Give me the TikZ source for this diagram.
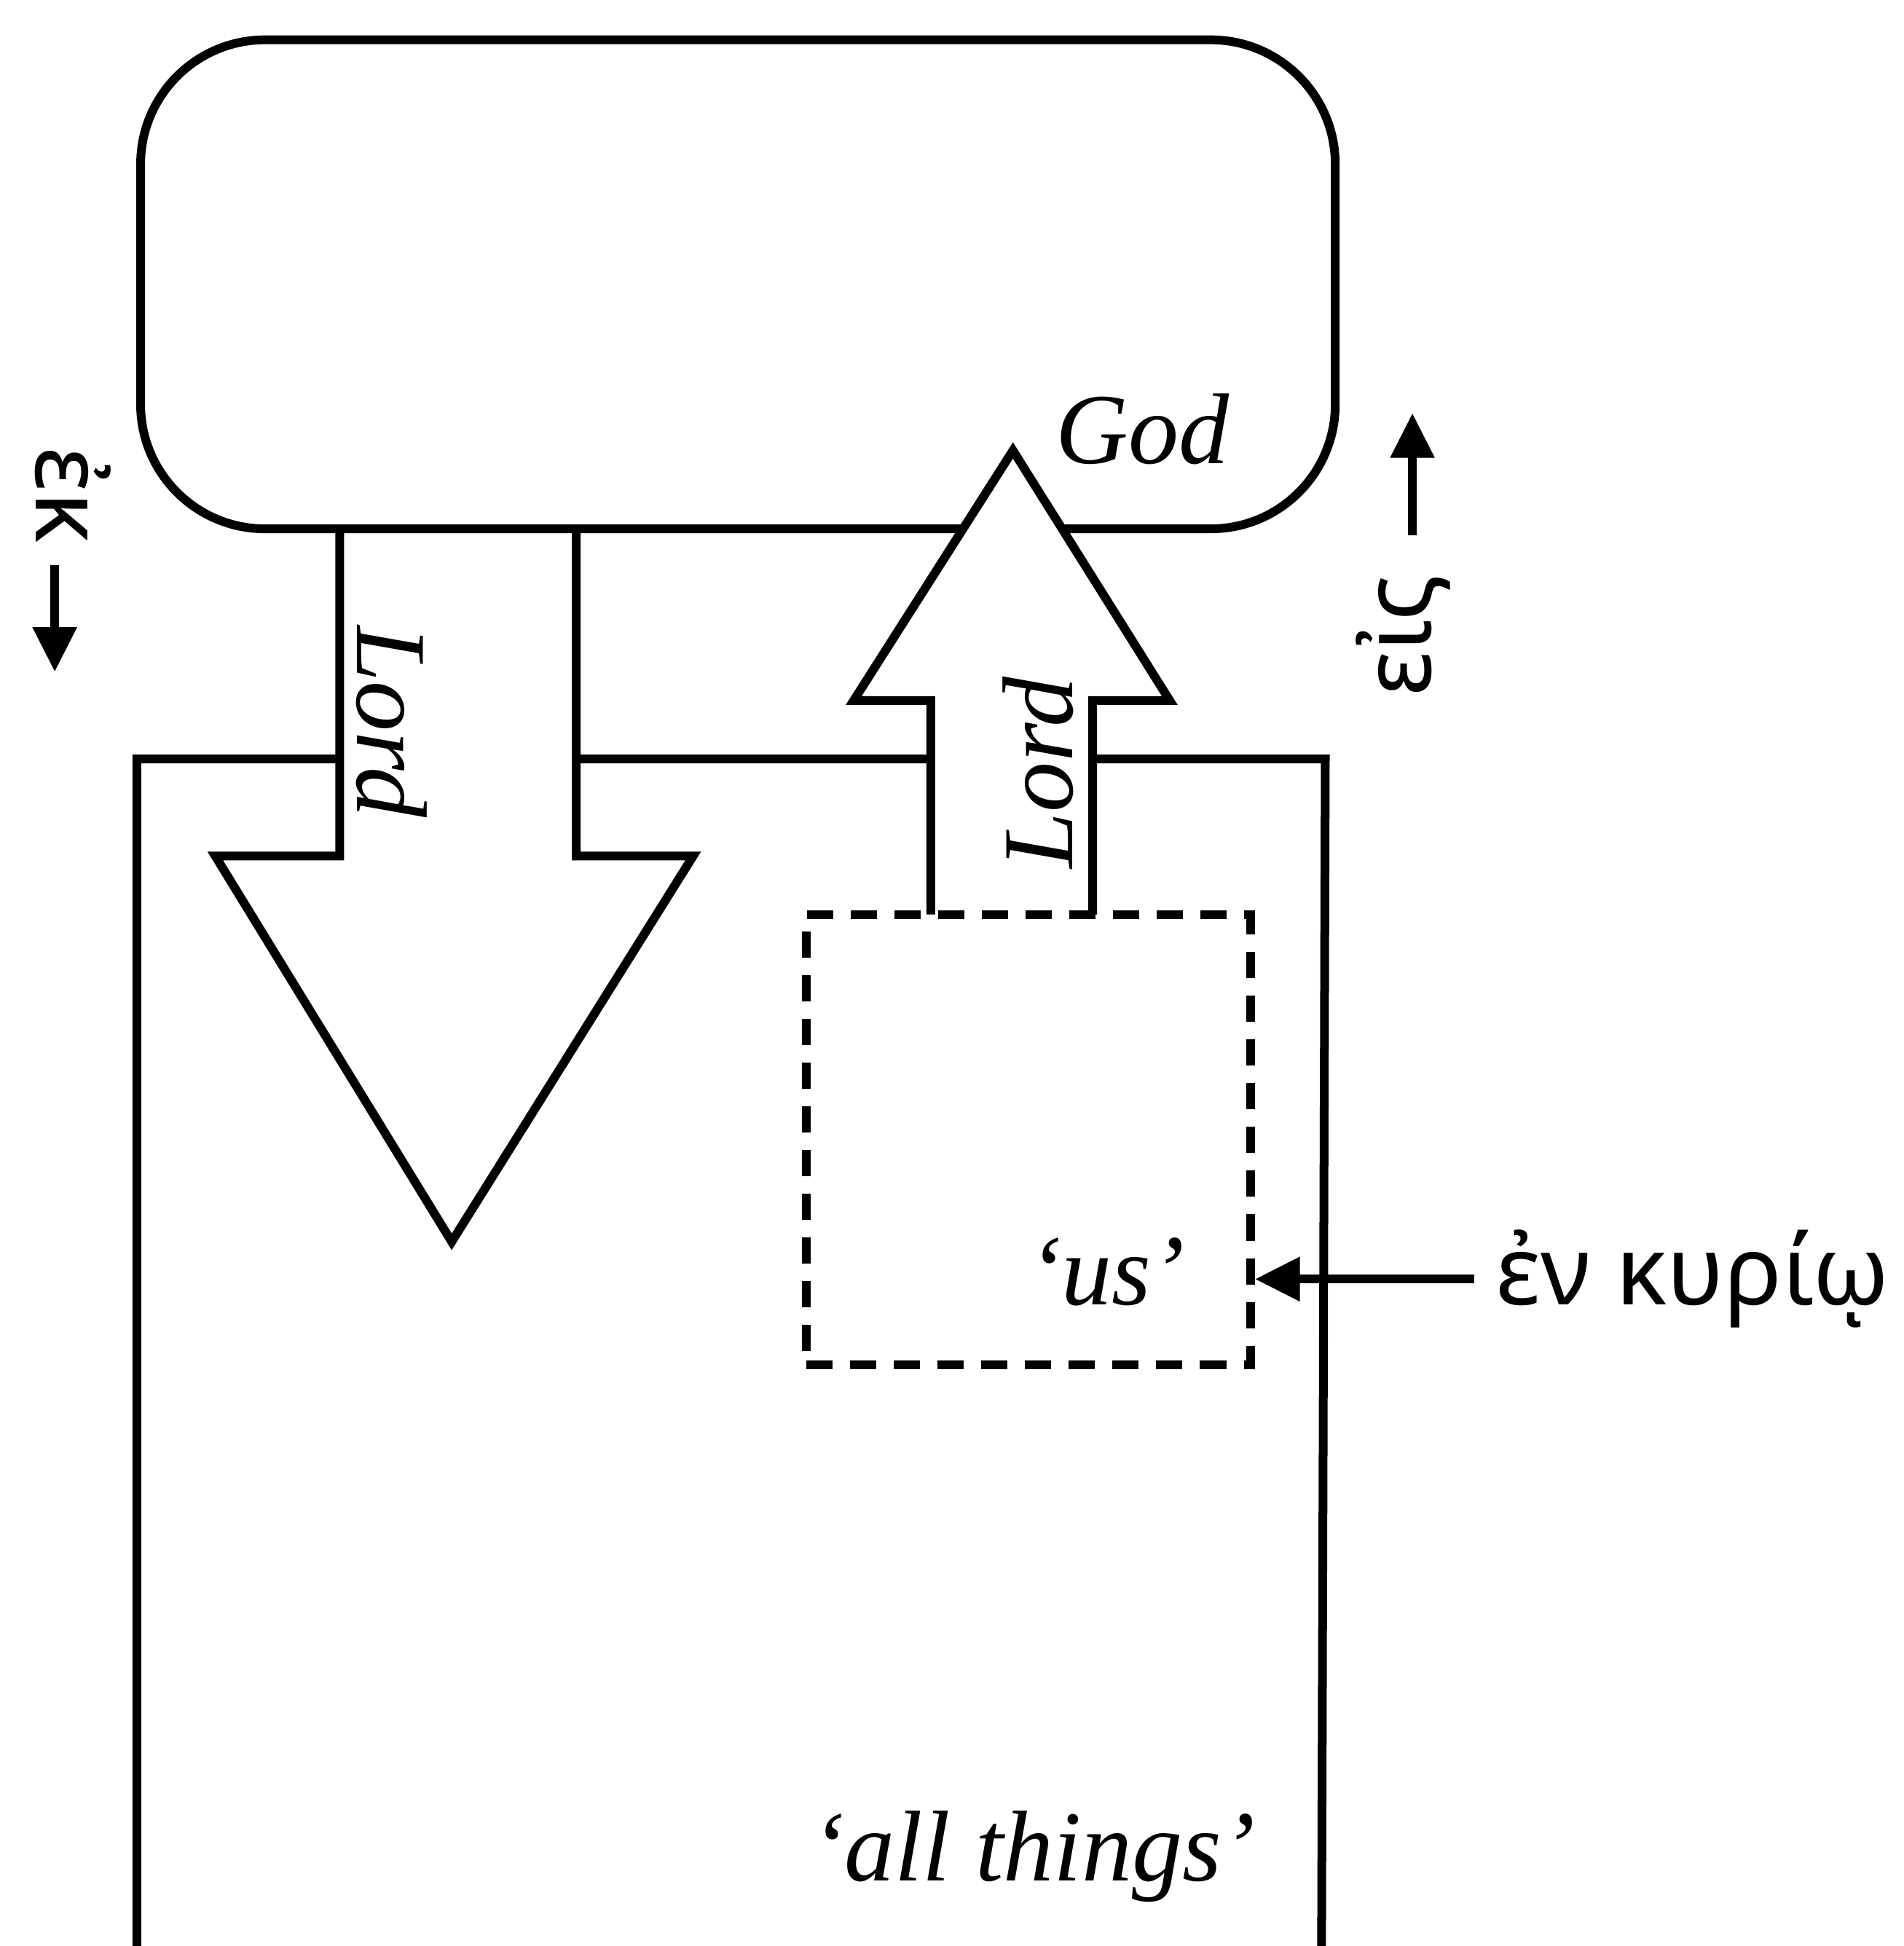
\documentclass[tikz,border=0pt]{standalone}
\usepackage{fontspec}
\setmainfont{Liberation Serif}
\newfontfamily\greekfont{Noto Sans}
\usetikzlibrary{arrows.meta}
\newcommand{\bigit}{\fontsize{23}{27}\selectfont\itshape}
\newcommand{\biggk}{\fontsize{22}{26}\selectfont\greekfont}

\begin{document}
\begin{tikzpicture}[line width=2pt,
        lbl/.style={font=\bigit, inner sep=1pt},
        gk/.style={font=\biggk, inner sep=1pt},
        tip/.style={-{Triangle[length=3.6mm,width=3.4mm]}, line width=2pt},
        usline/.style={dash pattern=on 6pt off 4pt}]

        \useasboundingbox (0,0) rectangle (15.30,-15.64);

        %%BOXES
        % All things (open at the bottom)
        \path[draw] (1.10,-15.64) -- (1.10,-6.10) -- (10.65,-6.10) -- (10.62,-15.64);

        % Lord, going out of God
        \path[draw, fill=white] (2.73,-4.25) -- (2.73,-6.88) -- (1.73,-6.88) -- (3.63,-9.98) -- (5.57,-6.88) -- (4.63,-6.88) -- (4.63,-4.25);

        % God
        \path[draw, rounded corners=1cm] (1.13,-0.32) rectangle (10.73,-4.25);

        % Lord, going back to God
        \path[draw, fill=white] (7.48,-7.35) -- (7.48,-5.63) -- (6.86,-5.63) -- (8.14,-3.62) -- (9.40,-5.63) -- (8.78,-5.63) -- (8.78,-7.35);

        % us
        \node[draw, usline, minimum width=3.57cm, minimum height=3.62cm, inner sep=0pt] (usbox) at (8.265,-9.16) {};

        %%LABELS
        \node[lbl] (god) at (9.18,-3.45) {God};
        \node[lbl, rotate=-90] (lordD) at (3.15,-5.80) {Lord};
        \node[lbl, rotate=90] (lordU) at (8.34,-6.21) {Lord};
        \node[lbl] (us) at (8.89,-10.22) {‘us’};
        \node[lbl] (all) at (8.30,-14.92) {‘all things’};

        %%GREEK
        % ek
        \node[gk, rotate=-90, anchor=base west] (ek) at (0.29,-3.52) {ἐκ};
        \coordinate (ekB) at (0.44,-5.40);
        \draw[tip, shorten <=3pt] (ek.east -| ekB) -- (ekB);

        % eis
        \node[gk, rotate=90, anchor=base west] (eis) at (11.50,-5.67) {εἰς};
        \coordinate (eisB) at (11.35,-3.32);
        \draw[tip, shorten <=7pt] (eis.east -| eisB) -- (eisB);

        % en kyrio
        \node[gk, anchor=west] (enk) at (11.95,-10.28) {ἐν κυρίῳ};
        \draw[tip, shorten <=3pt] (enk.west) -- (usbox.east |- enk.west);

\end{tikzpicture}
\end{document}
